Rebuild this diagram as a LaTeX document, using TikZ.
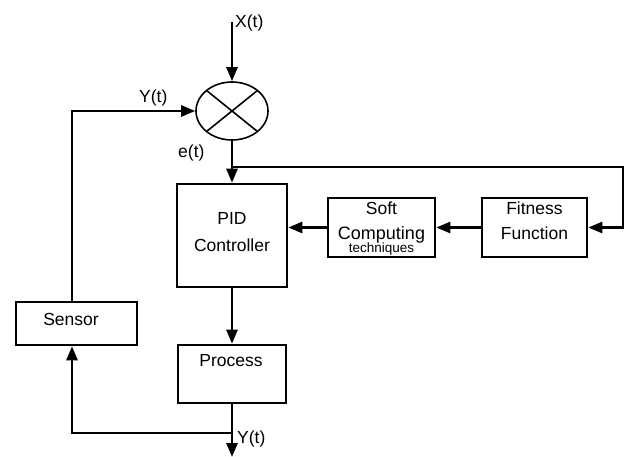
\documentclass[tikz,border=0pt]{standalone}
\usepackage{fontspec}
\setmainfont{Liberation Sans}
\usetikzlibrary{arrows.meta,calc,shapes.geometric}
\begin{document}
\begin{tikzpicture}[x=1pt,y=-1pt,
  lw/.style={line width=2.6pt},
  arr/.style={lw,-{Triangle[length=14pt,width=11pt]}},
  blk/.style={draw,line width=2.6pt,inner sep=0pt},
  txt/.style={inner sep=0pt,anchor=base,font=\fontsize{17.5}{20}\selectfont},
  lbl/.style={inner sep=0pt,anchor=base west,font=\fontsize{17.5}{20}\selectfont}]
\useasboundingbox (0,0) rectangle (630,457);
% blocks
\node[draw,ellipse,line width=1.6pt,minimum width=72pt,minimum height=58pt,inner sep=0pt] (sum) at (232,111) {};
\node[blk,minimum width=110pt,minimum height=103pt] (pid) at (232,235.5) {};
\node[blk,minimum width=107pt,minimum height=59pt] (soft) at (381.5,227.5) {};
\node[blk,minimum width=105pt,minimum height=59pt] (fit) at (534.5,227.5) {};
\node[blk,minimum width=121pt,minimum height=43pt] (sensor) at (76.5,323.5) {};
\node[blk,minimum width=108pt,minimum height=58pt] (proc) at (232,374) {};
% cross in summer
\draw[line width=1.6pt] ($(sum.center)+(135:36pt and 29pt)$) -- ($(sum.center)+(-45:36pt and 29pt)$);
\draw[line width=1.6pt] ($(sum.center)+(45:36pt and 29pt)$) -- ($(sum.center)+(-135:36pt and 29pt)$);
% texts
\node[txt] (tpid) at (232,225) {PID};
\node[txt] (tctl) at (232,252) {Controller};
\node[txt] (tsoft) at (381.5,215) {Soft};
\node[txt,font=\fontsize{18}{20}\selectfont] (tcomp) at (381.5,240) {Computing};
\node[txt,font=\fontsize{13.5}{15}\selectfont] (ttech) at (381.5,253) {techniques};
\node[txt] (tfit) at (534.5,215) {Fitness};
\node[txt] (tfun) at (534.5,240) {Function};
\node[txt] (tsen) at (71,326) {Sensor};
\node[txt] (tproc) at (231,367) {Process};
% labels
\node[lbl] (lx) at (235,28) {X(t)};
\node[lbl] (ly1) at (139,103) {Y(t)};
\node[lbl] (le) at (178,158) {e(t)};
\node[lbl] (ly2) at (237,443) {Y(t)};
% coordinates
\coordinate (xin) at (232,22);
\coordinate (br) at (232,167);
\coordinate (rc) at (623,167);
\coordinate (b2) at (232,433);
\coordinate (out) at (232,457);
% connectors
\draw[arr] (xin) -- (sum.north);
\draw[arr] ([xshift=-4.5pt]sensor.north) |- (sum.west);
\draw[arr] (sum.south) -- (pid.north);
\draw[arr] (br) -- (rc) |- (fit.east);
\draw[arr] (fit.west) -- (soft.east);
\draw[arr] (soft.west) -- (soft.west -| pid.east);
\draw[arr] (pid.south) -- (proc.north);
\draw[arr] (proc.south) -- (out);
\draw[arr] (b2) -| ([xshift=-4.5pt]sensor.south);
\end{tikzpicture}
\end{document}
